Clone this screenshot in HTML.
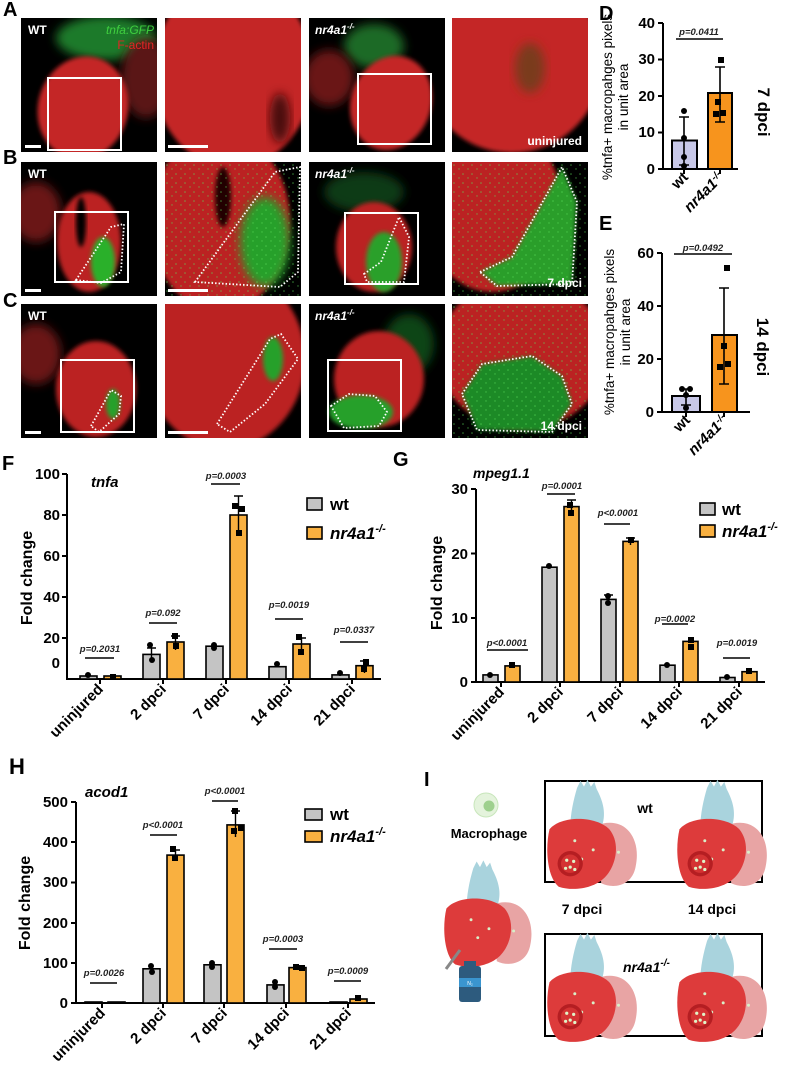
<!DOCTYPE html>
<html><head><meta charset="utf-8"><style>
html,body{margin:0;padding:0;background:#fff}
svg{display:block;font-family:"Liberation Sans",Arial,sans-serif}
.b{font-weight:bold}
.p{font-size:9.5px;font-style:italic;font-weight:bold;fill:#222}
.t{font-size:15px;font-weight:bold}
.xl{font-size:15px;font-weight:bold;text-anchor:end}
</style></head><body>
<svg width="785" height="1073" viewBox="0 0 785 1073" xmlns="http://www.w3.org/2000/svg">
<defs>
<filter id="bl" x="-20%" y="-20%" width="140%" height="140%"><feGaussianBlur stdDeviation="5"/></filter>
<filter id="bl2" x="-20%" y="-20%" width="140%" height="140%"><feGaussianBlur stdDeviation="2"/></filter>
<clipPath id="c1"><rect x="0" y="0" width="136" height="134"/></clipPath>
<pattern id="spk" width="9" height="9" patternUnits="userSpaceOnUse"><circle cx="2" cy="3" r="0.8" fill="#5be05b"/><circle cx="7" cy="7" r="0.7" fill="#5be05b"/></pattern>
<g id="heart">
<path d="M10,-15 C35,-25 50,-5 45,20 C42,38 25,40 15,35 Z" fill="#e8a4a4"/>
<path d="M-6,-48 l3,-6 3,5 3,-6 3,6 3,-4 2,6 C20,-30 18,-20 14,-10 L-12,-12 C-12,-25 -9,-38 -6,-48Z" fill="#a9d3dd"/>
<path d="M-30,-12 C-20,-24 10,-24 22,-12 C32,0 28,20 18,30 C8,40 -10,42 -22,38 C-32,30 -34,5 -30,-12Z" fill="#dd3b3b"/>
<circle cx="-8" cy="-2" r="1.3" fill="#d8f0c8"/><circle cx="8" cy="6" r="1.3" fill="#d8f0c8"/><circle cx="-2" cy="14" r="1.3" fill="#d8f0c8"/><circle cx="30" cy="8" r="1.3" fill="#d8f0c8"/>
</g>
<g id="inj"><circle r="11" fill="#b51e22"/><circle r="8" fill="#d43333"/>
<circle cx="-3" cy="-3" r="1.4" fill="#dff5c8"/><circle cx="3" cy="-2" r="1.4" fill="#dff5c8"/><circle cx="0" cy="3" r="1.4" fill="#dff5c8"/><circle cx="-4" cy="4" r="1.4" fill="#dff5c8"/><circle cx="4" cy="5" r="1.4" fill="#dff5c8"/></g>
</defs>

<!-- ======= micrographs ======= -->
<g font-weight="bold">
<text x="3" y="16" font-size="20">A</text>
<text x="3" y="164" font-size="20">B</text>
<text x="3" y="307" font-size="20">C</text>
</g>
<!-- Row A -->
<g transform="translate(21,18)"><g clip-path="url(#c1)"><rect width="136" height="134" fill="#000"/>
<ellipse cx="85" cy="20" rx="50" ry="22" fill="#1f7a2a" filter="url(#bl)"/>
<ellipse cx="125" cy="60" rx="25" ry="40" fill="#5a1414" filter="url(#bl)"/>
<ellipse cx="62" cy="90" rx="45" ry="52" fill="#c42626" filter="url(#bl2)" transform="rotate(15 62 90)"/>
<rect x="27" y="60" width="73" height="72" fill="none" stroke="#fff" stroke-width="2"/>
<rect x="4" y="127" width="16" height="3" fill="#fff"/>
<text x="7" y="16" fill="#fff" font-size="12" font-weight="bold">WT</text>
<text x="133" y="16" fill="#3fcf3f" font-size="12" font-style="italic" text-anchor="end">tnfa:GFP</text>
<text x="133" y="31" fill="#e42424" font-size="12" text-anchor="end">F-actin</text></g></g>
<g transform="translate(165,18)"><g clip-path="url(#c1)"><rect width="136" height="134" fill="#000"/>
<ellipse cx="68" cy="55" rx="80" ry="95" fill="#c42626" filter="url(#bl2)"/>
<ellipse cx="115" cy="100" rx="10" ry="25" fill="#4a1010" filter="url(#bl)"/>
<rect x="3" y="127" width="40" height="3" fill="#fff"/></g></g>
<g transform="translate(309,18)"><g clip-path="url(#c1)"><rect width="136" height="134" fill="#000"/>
<ellipse cx="65" cy="28" rx="30" ry="22" fill="#1d6a26" filter="url(#bl)"/>
<ellipse cx="20" cy="60" rx="25" ry="28" fill="#6a1717" filter="url(#bl)"/>
<ellipse cx="82" cy="85" rx="40" ry="48" fill="#c42626" filter="url(#bl2)" transform="rotate(20 82 85)"/>
<rect x="49" y="56" width="73" height="70" fill="none" stroke="#fff" stroke-width="2"/>
<text x="6" y="16" fill="#fff" font-size="12" font-weight="bold" font-style="italic">nr4a1<tspan dy="-5" font-size="8">-/-</tspan></text></g></g>
<g transform="translate(452,18)"><g clip-path="url(#c1)"><rect width="136" height="134" fill="#000"/>
<ellipse cx="60" cy="45" rx="90" ry="90" fill="#c42626" filter="url(#bl2)"/>
<ellipse cx="78" cy="50" rx="15" ry="25" fill="#7a3a1a" filter="url(#bl)"/>
<text x="130" y="127" fill="#fff" font-size="12" font-weight="bold" text-anchor="end">uninjured</text></g></g>
<!-- Row B -->
<g transform="translate(21,162)"><g clip-path="url(#c1)"><rect width="136" height="134" fill="#000"/>
<ellipse cx="15" cy="50" rx="25" ry="30" fill="#6a1717" filter="url(#bl)"/>
<ellipse cx="68" cy="80" rx="32" ry="50" fill="#bb2222" filter="url(#bl2)"/>
<ellipse cx="60" cy="60" rx="5" ry="25" fill="#000" filter="url(#bl2)"/>
<ellipse cx="82" cy="100" rx="12" ry="25" fill="#2bb02b" filter="url(#bl2)"/>
<rect x="34" y="50" width="73" height="70" fill="none" stroke="#fff" stroke-width="2"/>
<polygon points="55,118 90,65 103,62 100,110 80,121" fill="none" stroke="#fff" stroke-width="1.8" stroke-dasharray="1.5 2"/>
<rect x="4" y="127" width="16" height="3" fill="#fff"/>
<text x="7" y="16" fill="#fff" font-size="12" font-weight="bold">WT</text></g></g>
<g transform="translate(165,162)"><g clip-path="url(#c1)"><rect width="136" height="134" fill="#000"/>
<ellipse cx="55" cy="60" rx="70" ry="90" fill="#bb2222" filter="url(#bl2)"/>
<ellipse cx="58" cy="35" rx="8" ry="30" fill="#200" filter="url(#bl2)"/>
<ellipse cx="100" cy="80" rx="25" ry="45" fill="#26a02a" filter="url(#bl)"/>
<rect width="136" height="134" fill="url(#spk)" opacity="0.6"/>
<polygon points="30,120 110,10 135,5 133,110 115,125" fill="none" stroke="#fff" stroke-width="1.8" stroke-dasharray="1.5 2"/>
<rect x="3" y="127" width="40" height="3" fill="#fff"/></g></g>
<g transform="translate(309,162)"><g clip-path="url(#c1)"><rect width="136" height="134" fill="#000"/>
<ellipse cx="55" cy="30" rx="40" ry="20" fill="#0d3a12" filter="url(#bl)"/>
<ellipse cx="65" cy="85" rx="38" ry="45" fill="#bb2222" filter="url(#bl2)"/>
<ellipse cx="75" cy="100" rx="18" ry="30" fill="#2aa02a" filter="url(#bl2)"/>
<rect x="36" y="51" width="73" height="71" fill="none" stroke="#fff" stroke-width="2"/>
<polygon points="55,112 72,100 90,55 100,75 95,120 58,120" fill="none" stroke="#fff" stroke-width="1.8" stroke-dasharray="1.5 2"/>
<text x="6" y="16" fill="#fff" font-size="12" font-weight="bold" font-style="italic">nr4a1<tspan dy="-5" font-size="8">-/-</tspan></text></g></g>
<g transform="translate(452,162)"><g clip-path="url(#c1)"><rect width="136" height="134" fill="#000"/>
<ellipse cx="40" cy="45" rx="70" ry="85" fill="#bb2222" filter="url(#bl2)"/>
<polygon points="28,110 60,95 110,5 125,40 120,122 45,124" fill="#2a9e2a" filter="url(#bl2)"/>
<rect width="136" height="134" fill="url(#spk)" opacity="0.6"/>
<polygon points="28,110 60,95 110,5 125,40 120,122 45,124" fill="none" stroke="#fff" stroke-width="1.8" stroke-dasharray="1.5 2"/>
<text x="130" y="125" fill="#fff" font-size="12" font-weight="bold" text-anchor="end">7 dpci</text></g></g>
<!-- Row C -->
<g transform="translate(21,304)"><g clip-path="url(#c1)"><rect width="136" height="134" fill="#000"/>
<ellipse cx="15" cy="50" rx="25" ry="30" fill="#6a1717" filter="url(#bl)"/>
<ellipse cx="75" cy="85" rx="40" ry="48" fill="#bb2222" filter="url(#bl2)"/>
<ellipse cx="92" cy="100" rx="7" ry="15" fill="#27a02a" filter="url(#bl2)"/>
<rect x="40" y="56" width="73" height="72" fill="none" stroke="#fff" stroke-width="2"/>
<polygon points="70,122 90,86 100,92 98,110 78,128" fill="none" stroke="#fff" stroke-width="1.8" stroke-dasharray="1.5 2"/>
<rect x="4" y="127" width="16" height="3" fill="#fff"/>
<text x="7" y="16" fill="#fff" font-size="12" font-weight="bold">WT</text></g></g>
<g transform="translate(165,304)"><g clip-path="url(#c1)"><rect width="136" height="134" fill="#000"/>
<ellipse cx="60" cy="55" rx="80" ry="90" fill="#bb2222" filter="url(#bl2)"/>
<ellipse cx="108" cy="55" rx="10" ry="22" fill="#27a02a" filter="url(#bl2)"/>
<polygon points="52,120 105,35 116,30 133,55 100,100 65,128" fill="none" stroke="#fff" stroke-width="1.8" stroke-dasharray="1.5 2"/>
<rect x="3" y="127" width="40" height="3" fill="#fff"/></g></g>
<g transform="translate(309,304)"><g clip-path="url(#c1)"><rect width="136" height="134" fill="#000"/>
<ellipse cx="100" cy="40" rx="25" ry="30" fill="#0d4414" filter="url(#bl)"/>
<ellipse cx="70" cy="75" rx="45" ry="48" fill="#bb2222" filter="url(#bl2)"/>
<ellipse cx="52" cy="108" rx="32" ry="17" fill="#27a02a" filter="url(#bl2)"/>
<rect x="19" y="56" width="73" height="71" fill="none" stroke="#fff" stroke-width="2"/>
<polygon points="22,102 40,90 66,92 78,108 70,122 35,124" fill="none" stroke="#fff" stroke-width="1.8" stroke-dasharray="1.5 2"/>
<text x="6" y="16" fill="#fff" font-size="12" font-weight="bold" font-style="italic">nr4a1<tspan dy="-5" font-size="8">-/-</tspan></text></g></g>
<g transform="translate(452,304)"><g clip-path="url(#c1)"><rect width="136" height="134" fill="#000"/>
<ellipse cx="70" cy="50" rx="85" ry="75" fill="#bb2222" filter="url(#bl2)"/>
<polygon points="10,90 30,60 80,52 110,72 120,100 100,128 25,126" fill="#1f8a25" filter="url(#bl2)"/>
<rect width="136" height="134" fill="url(#spk)" opacity="0.6"/>
<polygon points="10,90 30,60 80,52 110,72 120,100 100,128 25,126" fill="none" stroke="#fff" stroke-width="1.8" stroke-dasharray="1.5 2"/>
<text x="130" y="126" fill="#fff" font-size="12" font-weight="bold" text-anchor="end">14 dpci</text></g></g>

<!-- ======= D ======= -->
<text x="599" y="20" font-size="20" class="b">D</text>
<g stroke="#000" stroke-width="2" fill="none"><path d="M663,23 V169 H738"/><path d="M658,23h5M658,59.5h5M658,96h5M658,132.5h5M658,169h5M684,169v5M720,169v5"/></g>
<g font-size="15" class="b" text-anchor="end"><text x="655" y="28">40</text><text x="655" y="64">30</text><text x="655" y="101">20</text><text x="655" y="137">10</text><text x="655" y="174">0</text></g>
<rect x="672" y="140.5" width="25" height="28.5" fill="#c8c8e8" stroke="#000" stroke-width="2"/>
<rect x="708" y="93" width="24" height="76" fill="#f7941d" stroke="#000" stroke-width="2"/>
<g stroke="#000" stroke-width="1.6"><path d="M684,117v48M679,117h10M679,165h10M720,67v55M715,67h10M715,122h10M676,39h47"/></g>
<g fill="#000"><circle cx="684" cy="111" r="3"/><circle cx="684" cy="138" r="3"/><circle cx="684" cy="157" r="3"/><circle cx="684" cy="166" r="3"/><rect x="718" y="57" width="6" height="6"/><rect x="715" y="99" width="6" height="6"/><rect x="720" y="110" width="6" height="6"/><rect x="713" y="111" width="6" height="6"/></g>
<text x="699" y="35" class="p" text-anchor="middle">p=0.0411</text>
<text transform="translate(612,97) rotate(-90)" font-size="13.5" text-anchor="middle">%tnfa+ macropahges pixels</text>
<text transform="translate(628,97) rotate(-90)" font-size="13.5" text-anchor="middle">in unit area</text>
<text transform="translate(758,112) rotate(90)" font-size="17" class="b" text-anchor="middle">7 dpci</text>
<g class="xl" style="font-style:italic"><text transform="translate(689,178) rotate(-45)" style="font-style:normal">wt</text><text transform="translate(725,178) rotate(-45)">nr4a1<tspan dy="-5" font-size="10">-/-</tspan></text></g>

<!-- ======= E ======= -->
<text x="599" y="230" font-size="20" class="b">E</text>
<g stroke="#000" stroke-width="2" fill="none"><path d="M662,253 V412 H750"/><path d="M657,253h5M657,306h5M657,359h5M657,412h5M686,412v5M724,412v5"/></g>
<g font-size="15" class="b" text-anchor="end"><text x="654" y="258">60</text><text x="654" y="311">40</text><text x="654" y="364">20</text><text x="654" y="417">0</text></g>
<rect x="672" y="396" width="28" height="16" fill="#c8c8e8" stroke="#000" stroke-width="2"/>
<rect x="712" y="335" width="25" height="77" fill="#f7941d" stroke="#000" stroke-width="2"/>
<g stroke="#000" stroke-width="1.6"><path d="M686,389v16M681,389h10M681,405h10M724,288v96M719,288h10M719,384h10M674,254h58"/></g>
<g fill="#000"><circle cx="682" cy="389" r="3"/><circle cx="690" cy="389" r="3"/><circle cx="686" cy="395" r="3"/><circle cx="686" cy="408" r="3"/><rect x="724" y="265" width="6" height="6"/><rect x="721" y="343" width="6" height="6"/><rect x="717" y="364" width="6" height="6"/><rect x="725" y="361" width="6" height="6"/></g>
<text x="703" y="251" class="p" text-anchor="middle">p=0.0492</text>
<text transform="translate(614,332) rotate(-90)" font-size="13.5" text-anchor="middle">%tnfa+ macropahges pixels</text>
<text transform="translate(630,332) rotate(-90)" font-size="13.5" text-anchor="middle">in unit area</text>
<text transform="translate(757,347) rotate(90)" font-size="17" class="b" text-anchor="middle">14 dpci</text>
<g class="xl" style="font-style:italic"><text transform="translate(691,421) rotate(-45)" style="font-style:normal">wt</text><text transform="translate(729,421) rotate(-45)">nr4a1<tspan dy="-5" font-size="10">-/-</tspan></text></g>

<!-- ======= F ======= -->
<text x="2" y="470" font-size="20" class="b">F</text>
<text x="91" y="487" font-size="15" class="b" font-style="italic">tnfa</text>
<g stroke="#000" stroke-width="2" fill="none"><path d="M67,474 V679 H381"/><path d="M62,474h5M62,515h5M62,556h5M62,597h5M62,638h5M100,679v5M163,679v5M226,679v5M289,679v5M352,679v5"/></g>
<g font-size="15" class="b" text-anchor="end"><text x="60" y="479">100</text><text x="60" y="520">80</text><text x="60" y="561">60</text><text x="60" y="602">40</text><text x="60" y="643">20</text><text x="60" y="668">0</text></g>
<text transform="translate(32,578) rotate(-90)" font-size="16" class="b" text-anchor="middle">Fold change</text>
<g stroke="#000" stroke-width="1.6" fill="#c4c4c4">
<rect x="80" y="676" width="17" height="3"/><rect x="143" y="654.4" width="17" height="24.6"/><rect x="206" y="646.2" width="17" height="32.8"/><rect x="269" y="666.7" width="17" height="12.3"/><rect x="332" y="674.9" width="17" height="4.1"/></g>
<g stroke="#000" stroke-width="1.6" fill="#f9b040">
<rect x="104" y="676" width="17" height="3"/><rect x="167" y="642" width="17" height="37"/><rect x="230" y="515" width="17" height="164"/><rect x="293" y="644" width="17" height="35"/><rect x="356" y="665.7" width="17" height="13.3"/></g>
<g stroke="#000" stroke-width="1.4"><path d="M151.5,648v13M147,648h9M175.5,636v14M171,636h9M238.5,496v37M234,496h9M301.5,638v14M297,638h9M364.5,661v12M360,661h9"/>
<path d="M85,658h29M149,623h28M211,484h29M275,619h28M340,642h28"/></g>
<g fill="#000"><circle cx="150" cy="645" r="3"/><circle cx="152" cy="660" r="3"/><circle cx="214" cy="645" r="3"/><circle cx="214" cy="648" r="3"/><circle cx="277" cy="664" r="3"/><circle cx="340" cy="673" r="3"/><circle cx="88" cy="675" r="3"/>
<rect x="172" y="633" width="6" height="6"/><rect x="173" y="643" width="6" height="6"/><rect x="232" y="503" width="6" height="6"/><rect x="239" y="506" width="6" height="6"/><rect x="236" y="530" width="6" height="6"/><rect x="296" y="634" width="6" height="6"/><rect x="298" y="649" width="6" height="6"/><rect x="363" y="659" width="6" height="6"/><rect x="361" y="666" width="6" height="6"/><rect x="110" y="674" width="6" height="5"/></g>
<g class="p" text-anchor="middle"><text x="100" y="652">p=0.2031</text><text x="163" y="616">p=0.092</text><text x="226" y="479">p=0.0003</text><text x="289" y="608">p=0.0019</text><text x="354" y="633">p=0.0337</text></g>
<rect x="307" y="498" width="15" height="12" fill="#c4c4c4" stroke="#000" stroke-width="1.6"/>
<rect x="307" y="527" width="15" height="12" fill="#f9b040" stroke="#000" stroke-width="1.6"/>
<text x="330" y="510" font-size="17" class="b">wt</text>
<text x="330" y="539" font-size="17" class="b" font-style="italic">nr4a1<tspan dy="-7" font-size="11">-/-</tspan></text>
<g class="xl"><text transform="translate(104,690) rotate(-45)">uninjured</text><text transform="translate(167,690) rotate(-45)">2 dpci</text><text transform="translate(230,690) rotate(-45)">7 dpci</text><text transform="translate(293,690) rotate(-45)">14 dpci</text><text transform="translate(356,690) rotate(-45)">21 dpci</text></g>

<!-- ======= G ======= -->
<text x="393" y="466" font-size="20" class="b">G</text>
<text x="473" y="478" font-size="14" class="b" font-style="italic">mpeg1.1</text>
<g stroke="#000" stroke-width="2" fill="none"><path d="M476,489 V682 H765"/><path d="M471,489h5M471,553.5h5M471,618h5M471,682h5M501,682v5M560,682v5M620,682v5M679,682v5M739,682v5"/></g>
<g font-size="15" class="b" text-anchor="end"><text x="468" y="494">30</text><text x="468" y="559">20</text><text x="468" y="623">10</text><text x="468" y="687">0</text></g>
<text transform="translate(442,583) rotate(-90)" font-size="16" class="b" text-anchor="middle">Fold change</text>
<g stroke="#000" stroke-width="1.6" fill="#c4c4c4">
<rect x="483" y="674.9" width="15" height="7.1"/><rect x="542" y="567.2" width="15" height="114.8"/><rect x="601" y="599.4" width="15" height="82.6"/><rect x="660" y="665.2" width="15" height="16.8"/><rect x="720" y="677.5" width="15" height="4.5"/></g>
<g stroke="#000" stroke-width="1.6" fill="#f9b040">
<rect x="505" y="665.9" width="15" height="16.1"/><rect x="564" y="506.6" width="15" height="175.4"/><rect x="623" y="541.4" width="15" height="140.6"/><rect x="683" y="641.4" width="15" height="40.6"/><rect x="742" y="671.7" width="15" height="10.3"/></g>
<g stroke="#000" stroke-width="1.4"><path d="M571.5,500v14M567,500h9M630.5,538v7M626,538h9M608.5,595v7M604,595h9"/>
<path d="M487,650h41M547,494h28M604,524h26M662,624h26M723,658h27"/></g>
<g fill="#000"><circle cx="490" cy="675" r="3"/><circle cx="549" cy="566" r="3"/><circle cx="608" cy="596" r="3"/><circle cx="608" cy="603" r="3"/><circle cx="667" cy="665" r="3"/><circle cx="727" cy="677" r="3"/>
<rect x="509" y="662" width="6" height="6"/><rect x="567" y="502" width="6" height="6"/><rect x="568" y="510" width="6" height="6"/><rect x="628" y="537" width="6" height="6"/><rect x="688" y="637" width="6" height="6"/><rect x="688" y="644" width="6" height="6"/><rect x="746" y="668" width="6" height="6"/></g>
<g class="p" text-anchor="middle"><text x="507" y="646">p&lt;0.0001</text><text x="562" y="489">p=0.0001</text><text x="618" y="516">p&lt;0.0001</text><text x="675" y="622">p=0.0002</text><text x="737" y="646">p=0.0019</text></g>
<rect x="700" y="503" width="15" height="12" fill="#c4c4c4" stroke="#000" stroke-width="1.6"/>
<rect x="700" y="525" width="15" height="12" fill="#f9b040" stroke="#000" stroke-width="1.6"/>
<text x="722" y="515" font-size="17" class="b">wt</text>
<text x="722" y="537" font-size="17" class="b" font-style="italic">nr4a1<tspan dy="-7" font-size="11">-/-</tspan></text>
<g class="xl"><text transform="translate(505,693) rotate(-45)">uninjured</text><text transform="translate(564,693) rotate(-45)">2 dpci</text><text transform="translate(624,693) rotate(-45)">7 dpci</text><text transform="translate(683,693) rotate(-45)">14 dpci</text><text transform="translate(743,693) rotate(-45)">21 dpci</text></g>

<!-- ======= H ======= -->
<text x="9" y="774" font-size="22" class="b">H</text>
<text x="85" y="797" font-size="15" class="b" font-style="italic">acod1</text>
<g stroke="#000" stroke-width="2" fill="none"><path d="M76,802 V1003 H375"/><path d="M71,802h5M71,842h5M71,882.5h5M71,923h5M71,963h5M71,1003h5M102,1003v5M163,1003v5M224,1003v5M286,1003v5M348,1003v5"/></g>
<g font-size="15" class="b" text-anchor="end"><text x="68" y="807">500</text><text x="68" y="847">400</text><text x="68" y="887">300</text><text x="68" y="928">200</text><text x="68" y="968">100</text><text x="68" y="1008">0</text></g>
<text transform="translate(30,903) rotate(-90)" font-size="16" class="b" text-anchor="middle">Fold change</text>
<g stroke="#000" stroke-width="1.6" fill="#c4c4c4">
<rect x="85" y="1002" width="17" height="1"/><rect x="143" y="968.8" width="17" height="34.2"/><rect x="204" y="964.8" width="17" height="38.2"/><rect x="267" y="984.9" width="17" height="18.1"/><rect x="330" y="1002" width="17" height="1"/></g>
<g stroke="#000" stroke-width="1.6" fill="#f9b040">
<rect x="108" y="1002" width="17" height="1"/><rect x="167" y="855.1" width="17" height="147.9"/><rect x="227" y="824.9" width="17" height="178.1"/><rect x="289" y="967.6" width="17" height="35.4"/><rect x="350" y="999" width="17" height="4"/></g>
<g stroke="#000" stroke-width="1.4"><path d="M175.5,850v10M171,850h9M235.5,811v26M231,811h9"/>
<path d="M90,983h27M150,835h27M212,801h26M269,949h28M334,981h27"/></g>
<g fill="#000"><circle cx="151" cy="966" r="3"/><circle cx="152" cy="972" r="3"/><circle cx="212" cy="963" r="3"/><circle cx="212" cy="967" r="3"/><circle cx="275" cy="982" r="3"/><circle cx="275" cy="987" r="3"/>
<rect x="170" y="846" width="6" height="6"/><rect x="172" y="855" width="6" height="6"/><rect x="232" y="808" width="6" height="6"/><rect x="231" y="828" width="6" height="6"/><rect x="238" y="825" width="6" height="6"/><rect x="293" y="964" width="6" height="6"/><rect x="299" y="965" width="6" height="6"/><rect x="355" y="995" width="6" height="6"/></g>
<g class="p" text-anchor="middle"><text x="104" y="976">p=0.0026</text><text x="163" y="828">p&lt;0.0001</text><text x="225" y="794">p&lt;0.0001</text><text x="283" y="942">p=0.0003</text><text x="348" y="974">p=0.0009</text></g>
<rect x="305" y="809" width="17" height="11" fill="#c4c4c4" stroke="#000" stroke-width="1.6"/>
<rect x="305" y="831" width="17" height="11" fill="#f9b040" stroke="#000" stroke-width="1.6"/>
<text x="330" y="820" font-size="17" class="b">wt</text>
<text x="330" y="842" font-size="17" class="b" font-style="italic">nr4a1<tspan dy="-7" font-size="11">-/-</tspan></text>
<g class="xl"><text transform="translate(106,1014) rotate(-45)">uninjured</text><text transform="translate(167,1014) rotate(-45)">2 dpci</text><text transform="translate(228,1014) rotate(-45)">7 dpci</text><text transform="translate(290,1014) rotate(-45)">14 dpci</text><text transform="translate(352,1014) rotate(-45)">21 dpci</text></g>

<!-- ======= I ======= -->
<text x="424" y="786" font-size="20" class="b">I</text>
<circle cx="486" cy="805" r="12" fill="#e4f3dc" stroke="#c8e6bb"/><circle cx="489" cy="806" r="5.5" fill="#9ed08e"/>
<text x="489" y="838" font-size="13" class="b" text-anchor="middle">Macrophage</text>
<g transform="translate(480,922) scale(1.12)"><use href="#heart"/></g>
<line x1="446" y1="969" x2="460" y2="950" stroke="#888" stroke-width="3"/>
<rect x="459" y="966" width="22" height="36" rx="3" fill="#2d5b7e"/><rect x="464" y="961" width="12" height="6" fill="#2d5b7e"/>
<rect x="459" y="978" width="22" height="9" fill="#3a95cf"/><text x="470" y="985" font-size="5" fill="#fff" text-anchor="middle">N₂</text>
<rect x="545" y="781" width="217" height="101" fill="none" stroke="#000" stroke-width="2"/>
<rect x="545" y="934" width="217" height="102" fill="none" stroke="#000" stroke-width="2"/>
<g transform="translate(584,843) scale(1.15)"><use href="#heart"/><use href="#inj" x="-12" y="18"/></g>
<g transform="translate(714,843) scale(1.15)"><use href="#heart"/><use href="#inj" x="-12" y="18"/></g>
<g transform="translate(584,996) scale(1.15)"><use href="#heart"/><use href="#inj" x="-12" y="18"/></g>
<g transform="translate(714,996) scale(1.15)"><use href="#heart"/><use href="#inj" x="-12" y="18"/></g>
<text x="645" y="813" font-size="14" class="b" text-anchor="middle">wt</text>
<text x="582" y="914" font-size="14" class="b" text-anchor="middle">7 dpci</text>
<text x="712" y="914" font-size="14" class="b" text-anchor="middle">14 dpci</text>
<text x="623" y="972" font-size="14" class="b" font-style="italic">nr4a1<tspan dy="-6" font-size="10">-/-</tspan></text>
</svg>
</body></html>
